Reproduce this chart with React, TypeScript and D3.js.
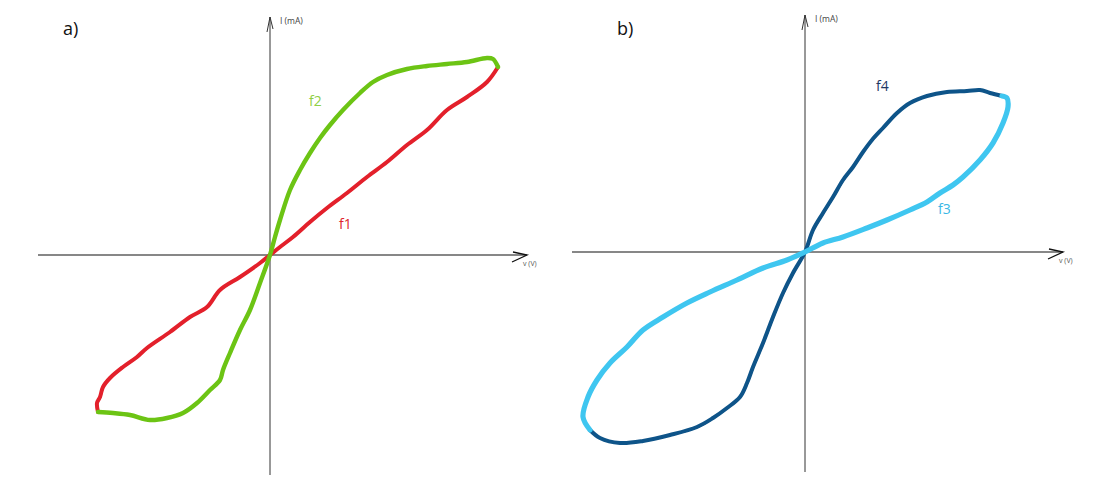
import React from 'react';
import * as d3 from 'd3';

// hand-sketched I-V loops, values in arbitrary units (v in V, i in mA)
type Pt = [number, number];

const f1Points: Pt[] = [
  [-1.72, -1.57], [-1.73, -1.48], [-1.7, -1.42], [-1.67, -1.32], [-1.6, -1.23],
  [-1.47, -1.12], [-1.33, -1.02], [-1.23, -0.93], [-1.0, -0.77], [-0.8, -0.62],
  [-0.63, -0.52], [-0.5, -0.35], [-0.3, -0.22], [-0.1, -0.08], [0, 0],
  [0.1, 0.08], [0.23, 0.18], [0.4, 0.33], [0.57, 0.47], [0.77, 0.62], [0.97, 0.78],
  [1.17, 0.93], [1.37, 1.1], [1.57, 1.25], [1.77, 1.45], [1.97, 1.58], [2.17, 1.73],
  [2.28, 1.88],
];

const f2Points: Pt[] = [
  [-1.72, -1.57], [-1.57, -1.58], [-1.4, -1.6], [-1.2, -1.65], [-1.03, -1.63],
  [-0.87, -1.58], [-0.73, -1.48], [-0.6, -1.35], [-0.5, -1.25], [-0.47, -1.15],
  [-0.4, -0.98], [-0.3, -0.75], [-0.2, -0.55], [-0.1, -0.28], [0, 0],
  [0.05, 0.18], [0.1, 0.35], [0.2, 0.65], [0.3, 0.85], [0.4, 1.02], [0.5, 1.17],
  [0.6, 1.3], [0.73, 1.45], [0.9, 1.62], [1.03, 1.73], [1.17, 1.8], [1.37, 1.86],
  [1.57, 1.89], [1.77, 1.91], [1.97, 1.93], [2.17, 1.97], [2.23, 1.96], [2.28, 1.88],
];

const f3Points: Pt[] = [
  [-2.15, -1.78], [-2.22, -1.65], [-2.17, -1.45], [-2.08, -1.28], [-1.95, -1.11],
  [-1.78, -0.95], [-1.62, -0.78], [-1.42, -0.65], [-1.18, -0.51], [-0.95, -0.4],
  [-0.68, -0.28], [-0.42, -0.16], [-0.18, -0.08], [0, 0], [0.18, 0.09], [0.38, 0.15],
  [0.62, 0.24], [0.82, 0.32], [1.05, 0.42], [1.22, 0.5], [1.35, 0.59], [1.48, 0.67],
  [1.58, 0.75], [1.75, 0.92], [1.88, 1.09], [1.98, 1.29], [2.03, 1.45], [2.02, 1.54],
  [1.97, 1.56],
];

const f4Points: Pt[] = [
  [-2.15, -1.78], [-2.05, -1.86], [-1.85, -1.91], [-1.62, -1.89], [-1.35, -1.83],
  [-1.08, -1.75], [-0.92, -1.66], [-0.78, -1.56], [-0.65, -1.45], [-0.58, -1.31],
  [-0.52, -1.15], [-0.42, -0.91], [-0.32, -0.65], [-0.22, -0.41], [-0.12, -0.21],
  [0, 0], [0.08, 0.22], [0.18, 0.39], [0.28, 0.55], [0.38, 0.72], [0.48, 0.85],
  [0.58, 1.0], [0.67, 1.12], [0.78, 1.24], [0.92, 1.39], [1.05, 1.49], [1.22, 1.56],
  [1.42, 1.6], [1.62, 1.61], [1.75, 1.62], [1.85, 1.59], [1.97, 1.56],
];

const panelLabels = ['a)', 'b)'];
const axisLabelV = 'v (V)';
const axisLabelI = 'I (mA)';

// axis extents in data units
const vExtentA: Pt = [-2.32, 2.57];
const iExtentA: Pt = [-2.2, 2.38];
const vExtentB: Pt = [-2.33, 2.58];
const iExtentB: Pt = [-2.2, 2.37];

const width = 1117;
const height = 498;
const unit = 100; // px per data unit

const font = '"Open Sans", "Noto Sans", sans-serif';

const Panel = ({ ox, oy, vExt, iExt, label, labelPos, curves }) => {
  const x = d3.scaleLinear().domain([0, 1]).range([ox, ox + unit]);
  const y = d3.scaleLinear().domain([0, 1]).range([oy, oy - unit]);
  const line = d3
    .line<Pt>()
    .x(d => x(d[0]))
    .y(d => y(d[1]))
    .curve(d3.curveCatmullRom.alpha(0.5));

  const xr = x(vExt[1]);
  const yt = y(iExt[1]);

  return (
    <g>
      <text x={labelPos[0]} y={labelPos[1]} fontFamily={font} fontSize={18} fill="#111">
        {label}
      </text>

      {/* axes */}
      <line x1={x(vExt[0])} x2={xr} y1={oy} y2={oy} stroke="#111" strokeWidth={1.2} />
      <polyline
        points={`${xr - 14},${oy - 3} ${xr},${oy} ${xr - 15},${oy + 7}`}
        fill="none"
        stroke="#111"
        strokeWidth={1.3}
      />
      <line x1={ox} x2={ox} y1={y(iExt[0])} y2={yt} stroke="#333" strokeWidth={1} />
      <polyline
        points={`${ox - 3},${yt + 15} ${ox},${yt} ${ox + 3},${yt + 12}`}
        fill="none"
        stroke="#333"
        strokeWidth={1}
      />
      <text x={ox + 10} y={yt + 7} fontFamily={font} fontSize={8.5} fill="#444">
        {axisLabelI}
      </text>
      <text x={xr - 4} y={oy + 11} fontFamily={font} fontSize={7} fill="#555">
        {axisLabelV}
      </text>

      {curves.map(c => (
        <g key={c.name}>
          <path d={line(c.points)} fill="none" stroke="#222" strokeWidth={0.8} transform="translate(0.8,0.6)" />
          <path
            d={line(c.points)}
            fill="none"
            stroke={c.color}
            strokeWidth={c.width}
            strokeLinecap="round"
            strokeLinejoin="round"
          />
        </g>
      ))}
      {curves.map(c => (
        <text key={c.name + '-l'} x={c.at[0]} y={c.at[1]} fontFamily={font} fontSize={14} fill={c.textColor}>
          {c.name}
        </text>
      ))}
    </g>
  );
};

export default function App() {
  return (
    <svg
      width={width}
      height={height}
      style={{ position: 'absolute', left: 0, top: 0, background: '#fff' }}
    >
      <rect width={width} height={height} fill="#fff" />
      <Panel
        ox={270}
        oy={255}
        vExt={vExtentA}
        iExt={iExtentA}
        label={panelLabels[0]}
        labelPos={[63, 35]}
        curves={[
          { name: 'f1', points: f1Points, color: '#e3202b', width: 4, textColor: '#e0242c', at: [339, 229] },
          { name: 'f2', points: f2Points, color: '#6cc414', width: 4.4, textColor: '#8fcf45', at: [309, 106] },
        ]}
      />
      <Panel
        ox={805}
        oy={252}
        vExt={vExtentB}
        iExt={iExtentB}
        label={panelLabels[1]}
        labelPos={[617, 35]}
        curves={[
          { name: 'f4', points: f4Points, color: '#0e5489', width: 4, textColor: '#1f3864', at: [876, 91] },
          { name: 'f3', points: f3Points, color: '#3fc6f0', width: 5.2, textColor: '#3bb8e6', at: [938, 214] },
        ]}
      />
    </svg>
  );
}
